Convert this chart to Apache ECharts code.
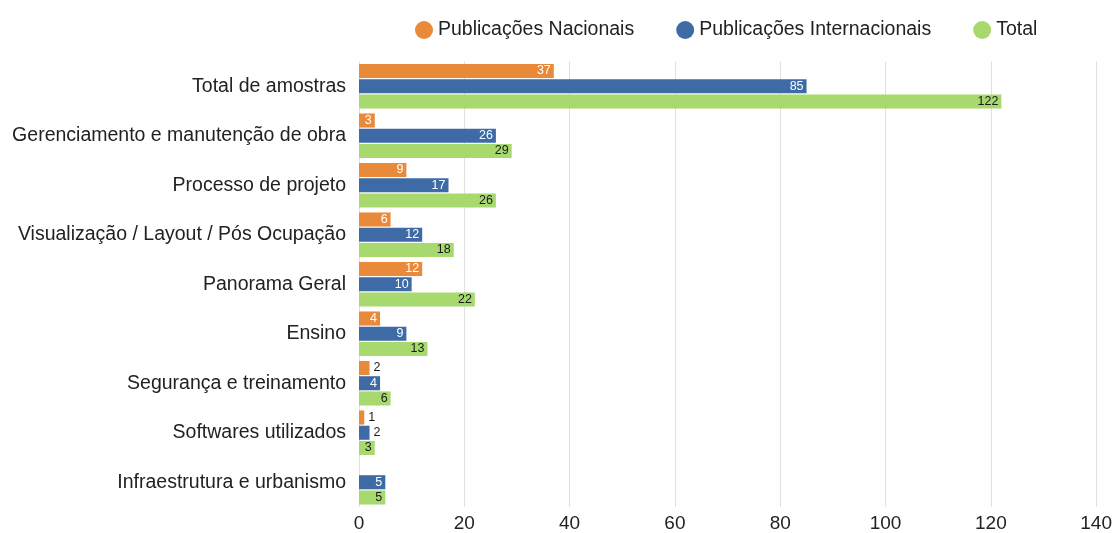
<!DOCTYPE html>
<html>
<head>
<meta charset="utf-8">
<script src="https://cdn.jsdelivr.net/npm/echarts@6/dist/echarts.min.js"></script>
<style>html,body{margin:0;padding:0;background:#fff}#c{width:1115px;height:533px}</style>
</head>
<body>
<div id="c"></div>
<script>
const categories = ["Total de amostras","Gerenciamento e manutenção de obra","Processo de projeto","Visualização / Layout / Pós Ocupação","Panorama Geral","Ensino","Segurança e treinamento","Softwares utilizados","Infraestrutura e urbanismo"];
const nacionais = [37,3,9,6,12,4,2,1,null];
const internacionais = [85,26,17,12,10,9,4,2,5];
const total = [122,29,26,18,22,13,6,3,5];
const seriesNames = ["Publicações Nacionais","Publicações Internacionais","Total"];
const colors = ["#E98A3B","#3E6BA6","#A8D96F"];
const labelColors = ["#ffffff","#ffffff","#1a1a1a"];
const FONT = 'Liberation Sans, Arial, sans-serif';

function mk(vals, i){
  return {
    name: seriesNames[i], type:'bar', barGap:'8%', barCategoryGap:'10%',
    itemStyle:{color:colors[i]},
    data: vals.map(v => {
      if (v === null) return {value:null};
      if (v <= 2) return {value:v, label:{show:true, position:'right', color:'#1a1a1a', distance:4}};
      return {value:v};
    }),
    label:{show:true, position:'insideRight', color:labelColors[i], fontSize:12.5, fontFamily:FONT, distance:3}
  };
}
const chart = echarts.init(document.getElementById('c'), null, {renderer:'canvas'});
chart.setOption({
  animation:false,
  color: colors,
  legend:{top:15, left:410, icon:'circle', itemWidth:18, itemHeight:18, itemGap:42,
    textStyle:{fontSize:19.5, color:'#222', fontFamily:FONT}},
  grid:{left:359, right:18, top:61.5, bottom:22.5, containLabel:false},
  xAxis:{type:'value', min:0, max:140, interval:20,
    axisLine:{show:false}, axisTick:{show:false},
    splitLine:{lineStyle:{color:'#e0e0e0'}},
    axisLabel:{fontSize:19, color:'#222', margin:7, fontFamily:FONT}},
  yAxis:{type:'category', data:categories, inverse:true,
    axisLine:{show:false}, axisTick:{show:false},
    axisLabel:{fontSize:19.5, color:'#222', margin:13, fontFamily:FONT}},
  series:[mk(nacionais,0), mk(internacionais,1), mk(total,2)]
});
</script>
</body>
</html>
